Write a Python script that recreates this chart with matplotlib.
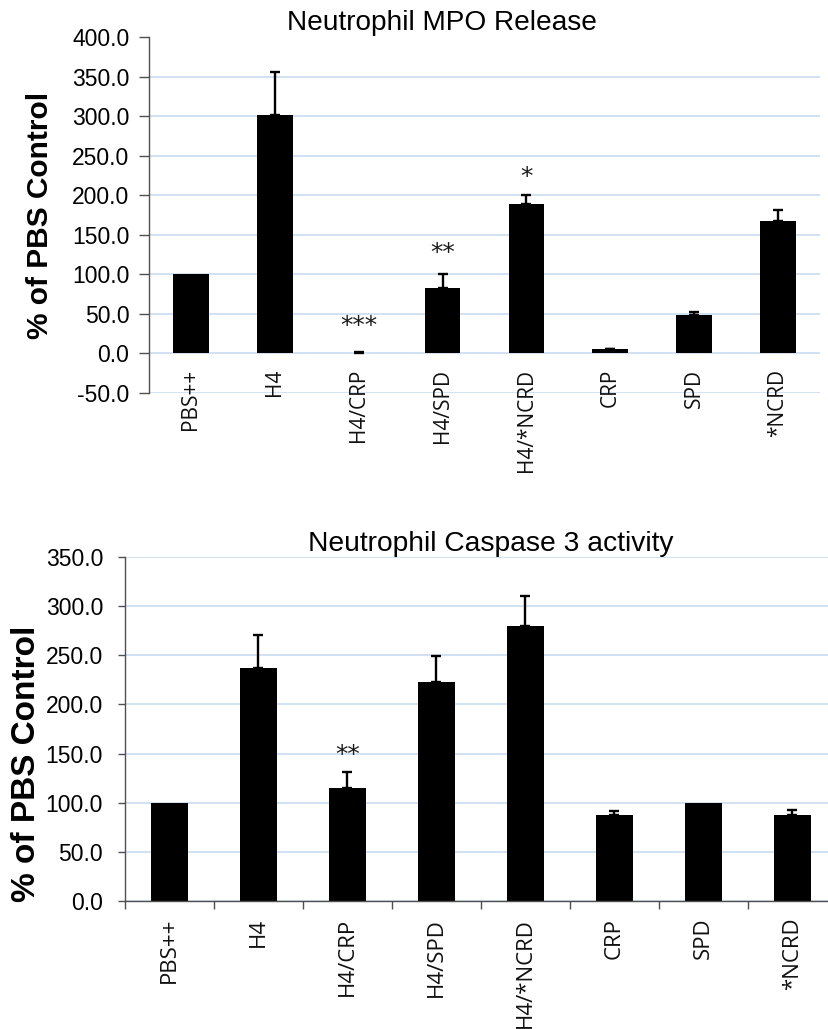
import matplotlib
matplotlib.use("Agg")
import matplotlib.pyplot as plt
import numpy as np

categories = ["PBS++", "H4", "H4/CRP", "H4/SPD", "H4/*NCRD", "CRP", "SPD", "*NCRD"]

mpo_values = [100, 301, 1, 83, 189, 5, 48, 168]
mpo_errors = [0, 55, 1, 18, 11, 1, 5, 13]
mpo_stars = {2: ("***", 40), 3: ("**", 132), 4: ("*", 228)}
mpo_ticks = [-50, 0, 50, 100, 150, 200, 250, 300, 350, 400]

casp_values = [100, 237, 115, 223, 280, 87, 100, 88]
casp_errors = [0, 34, 16, 26, 30, 5, 0, 5]
casp_stars = {2: ("**", 153)}
casp_ticks = [0, 50, 100, 150, 200, 250, 300, 350]

W, H = 829, 1029
fig = plt.figure(figsize=(W / 100, H / 100), dpi=100)

GRID = "#c6daf0"
SPINE = "#505050"
TICKFONT = dict(family=["Liberation Sans", "DejaVu Sans"], size=16.5)


def px_axes(l, t, r, b):
    return fig.add_axes([l / W, 1 - b / H, (r - l) / W, (b - t) / H])


def draw(ax, values, errors, stars, ticks, bottom_chart, catsize, bar_w,
         ytick_len, ytick_pad, grid_top):
    x = np.arange(len(categories))
    ax.spines["bottom"].set_position(("data", 0))
    ax.bar(x, values, width=bar_w, color="black", zorder=3)
    e = np.array(errors, dtype=float)
    m = e > 0
    ax.errorbar(x[m], np.array(values)[m], yerr=[np.zeros(m.sum()), e[m]],
                fmt="none", ecolor="black", elinewidth=1.7, capsize=3.6,
                capthick=1.7, zorder=4)
    for i, (s, yv) in stars.items():
        ax.annotate(s, (i, yv), xytext=(0, -8.0), textcoords="offset points",
                    ha="center", va="baseline", fontsize=18,
                    family="DejaVu Sans", color="#1a1a1a", zorder=5)
    ax.set_xlim(-0.5, len(categories) - 0.5)
    ax.set_ylim(ticks[0], ticks[-1])
    ax.set_yticks(ticks)
    ax.set_yticklabels([f"{t:.1f}" for t in ticks], fontdict=TICKFONT)
    for t in ticks:
        if t == ticks[-1] and not grid_top:
            continue
        ax.axhline(t, color=GRID, lw=1.1, zorder=1)
    for sp in ["top", "right"]:
        ax.spines[sp].set_visible(False)
    ax.spines["left"].set_color(SPINE)
    ax.spines["left"].set_linewidth(1.0)
    ax.tick_params(axis="y", direction="out", length=ytick_len, width=1.0,
                   color=SPINE, pad=ytick_pad)
    ax.set_xticks(x)
    ax.set_xticklabels(categories, rotation=90, va="top", ha="center",
                       fontdict=dict(family=["Open Sans", "DejaVu Sans"],
                                     size=catsize),
                       color="#111111")
    if bottom_chart:
        ax.spines["bottom"].set_color(SPINE)
        ax.spines["bottom"].set_linewidth(1.0)
        ax.spines["bottom"].set_zorder(4)
        ax.set_xticks(np.arange(len(categories) + 1) - 0.5, minor=True)
        ax.tick_params(axis="x", which="minor", direction="out", length=5.8,
                       width=1.0, color=SPINE)
        ax.tick_params(axis="x", which="major", length=0, pad=12.0)
    else:
        ax.spines["bottom"].set_visible(False)
        ax.tick_params(axis="x", which="major", length=0, pad=11.0)
    ax.set_facecolor("white")


ax1 = px_axes(149, 37, 820, 393)
draw(ax1, mpo_values, mpo_errors, mpo_stars, mpo_ticks, bottom_chart=False,
     catsize=15, bar_w=0.425, ytick_len=7.2, ytick_pad=7.0, grid_top=False)
fig.text(442 / W, 1 - 23 / H, "Neutrophil MPO Release", ha="center",
         va="center", family=["Liberation Sans"], size=20.2)
fig.text(40 / W, 1 - 215 / H, "% of PBS Control", rotation=90, ha="center",
         va="center", family=["Liberation Sans"], size=21.5, weight="bold")

ax2 = px_axes(125, 557, 837, 901)
draw(ax2, casp_values, casp_errors, casp_stars, casp_ticks, bottom_chart=True,
     catsize=16, bar_w=0.415, ytick_len=5.0, ytick_pad=10.8, grid_top=True)
fig.text(491 / W, 1 - 544 / H, "Neutrophil Caspase 3 activity", ha="center",
         va="center", family=["Liberation Sans"], size=20.3)
fig.text(27 / W, 1 - 764 / H, "% of PBS Control", rotation=90, ha="center",
         va="center", family=["Liberation Sans"], size=24, weight="bold")

fig.savefig("out.png", dpi=100, facecolor="white")
